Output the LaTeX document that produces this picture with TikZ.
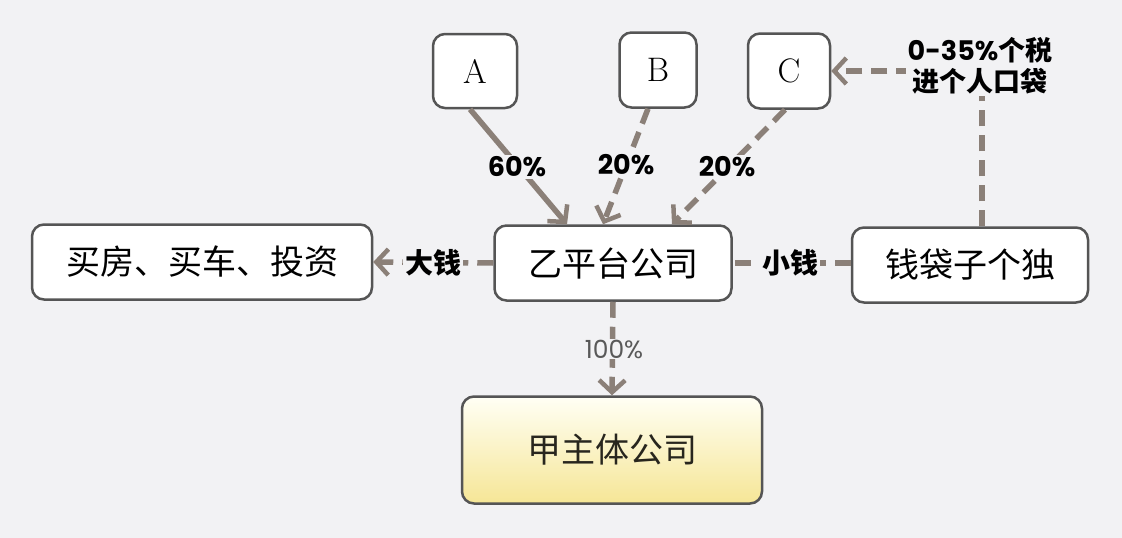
\documentclass[tikz,border=0pt]{standalone}
\usepackage{fontspec}
\newfontfamily\cjk{Noto Sans CJK SC}
\newfontfamily\pop{Poppins}
\usetikzlibrary{arrows.meta,shadings}
\definecolor{bg}{HTML}{F2F2F4}
\definecolor{ln}{HTML}{8B8078}
\definecolor{bd}{HTML}{555555}
\tikzset{
  x=1pt, y=-1pt,
  box/.style={draw=bd, line width=2.5pt, rounded corners=12pt, fill=white, inner sep=0pt, align=center},
  cjkbox/.style={box, font=\cjk\fontsize{34}{36}\selectfont},
  letterbox/.style={box, font=\fontsize{34}{36}\selectfont},
  conn/.style={draw=ln, line width=5.5pt},
  dconn/.style={conn, dash pattern=on 16pt off 9pt},
  tip/.style={-{Straight Barb[length=12pt,width=26pt,line width=4.5pt]}},
  pct/.style={fill=bg, inner sep=2pt, font=\pop\bfseries\fontsize{27}{29}\selectfont},
  money/.style={fill=bg, inner sep=2pt, font=\cjk\bfseries\fontsize{28}{30}\selectfont},
}
\begin{document}
\begin{tikzpicture}
\fill[bg] (0,0) rectangle (1122,538);
\useasboundingbox (0,0) rectangle (1122,538);

\node[letterbox, minimum width=84pt, minimum height=74pt] (A) at (475,71) {A};
\node[letterbox, minimum width=77pt, minimum height=75pt] (B) at (658,70) {B};
\node[letterbox, minimum width=82pt, minimum height=75pt] (C) at (789,71) {C};
\node[cjkbox, minimum width=340pt, minimum height=75pt] (buy) at (202,262) {买房、买车、投资};
\node[cjkbox, minimum width=237pt, minimum height=75pt] (yi) at (613,263) {乙平台公司};
\node[cjkbox, minimum width=236pt, minimum height=75pt] (qian) at (970,265) {钱袋子个独};
\node[box, minimum width=300pt, minimum height=107pt, top color=yellow!4!white, bottom color={rgb,255:red,246;green,230;blue,150}, font=\cjk\fontsize{34}{36}\selectfont, text={rgb,255:red,40;green,38;blue,30}] (jia) at (612,450) {甲主体公司};

% connectors
\draw[conn, tip] ([xshift=-5pt]A.south) -- ([xshift=-46pt]yi.north);
\draw[dconn, tip] ([xshift=-10pt]B.south) -- ([xshift=-10pt]yi.north);
\draw[dconn, tip] ([xshift=-4pt]C.south) -- ([xshift=59pt]yi.north);
\draw[dconn, tip] (yi.west) -- (buy.east);
\draw[dconn] (qian.west |- yi.east) -- (yi.east);
\draw[dconn, tip] ([xshift=12pt]qian.north) |- (C.east);
\draw[dconn, tip] (yi.south) -- (jia.north);

% labels
\node[pct] (l60) at (517,167) {60\%};
\node[pct] (l20a) at (626,165) {20\%};
\node[pct] (l20b) at (727,167) {20\%};
\node[money] (big) at (433,263) {大钱};
\node[money] (small) at (790,263) {小钱};
\node[fill=bg, inner sep=2pt, align=center, font=\cjk\bfseries\fontsize{27}{31}\selectfont] (tax) at (980,66) {{\pop\bfseries 0-35\%}个税\\进个人口袋};
\node[fill=bg, inner sep=1pt, text=black!65, font=\pop\fontsize{25}{27}\selectfont] (l100) at (614,349) {100\%};
\end{tikzpicture}
\end{document}
